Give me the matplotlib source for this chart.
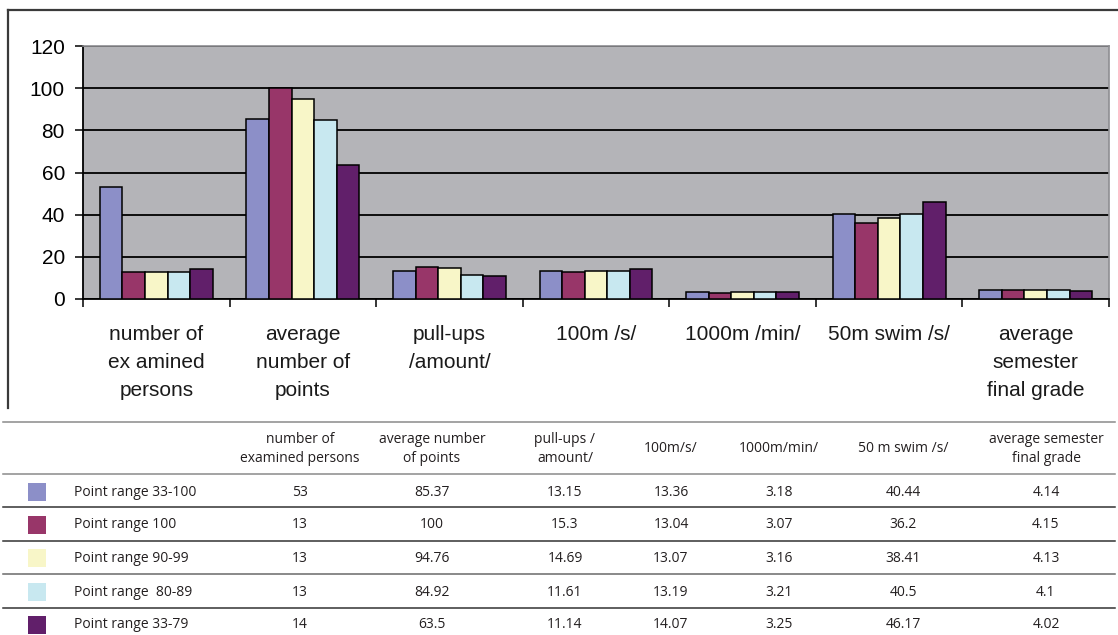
import matplotlib
matplotlib.use("Agg")
import matplotlib.pyplot as plt
from matplotlib.lines import Line2D
from matplotlib.patches import Rectangle
import numpy as np

# ---- data ----
categories = [
    "number of\nex amined\npersons",
    "average\nnumber of\npoints",
    "pull-ups\n/amount/",
    "100m /s/",
    "1000m /min/",
    "50m swim /s/",
    "average\nsemester\nfinal grade",
]
table_headers = [
    "number of\nexamined persons",
    "average number\nof points",
    "pull-ups /\namount/",
    "100m/s/",
    "1000m/min/",
    "50 m swim /s/",
    "average semester\nfinal grade",
]
series_names = [
    "Point range 33-100",
    "Point range 100",
    "Point range 90-99",
    "Point range  80-89",
    "Point range 33-79",
]
range_33_100 = [53, 85.37, 13.15, 13.36, 3.18, 40.44, 4.14]
range_100 = [13, 100, 15.3, 13.04, 3.07, 36.2, 4.15]
range_90_99 = [13, 94.76, 14.69, 13.07, 3.16, 38.41, 4.13]
range_80_89 = [13, 84.92, 11.61, 13.19, 3.21, 40.5, 4.1]
range_33_79 = [14, 63.5, 11.14, 14.07, 3.25, 46.17, 4.02]
series_values = [range_33_100, range_100, range_90_99, range_80_89, range_33_79]
series_colors = ["#8C8FC8", "#983669", "#F8F6C8", "#C8E8F0", "#611F6A"]
yticks = [0, 20, 40, 60, 80, 100, 120]

# ---- figure ----
W, H = 1118, 635
fig = plt.figure(figsize=(W / 100, H / 100), dpi=100)
fig.patch.set_facecolor("white")


def fx(px):
    return px / W


def fy(py):
    return 1 - py / H


# chart frame (top and left edges)
fig.add_artist(Line2D([fx(8), fx(1118)], [fy(10), fy(10)], color="#3a3a3a", lw=1.6))
fig.add_artist(Line2D([fx(8), fx(8)], [fy(10), fy(408)], color="#3a3a3a", lw=1.6))

ax = fig.add_axes([fx(83), fy(299), fx(1109 - 83), (299 - 46) / H])
ax.set_facecolor("#B4B4B8")
ax.set_xlim(0, len(categories))
ax.set_ylim(0, 120)

n_series = len(series_values)
bw = 1 / 6.5
centers = np.arange(len(categories)) + 0.5
for j, (vals, col) in enumerate(zip(series_values, series_colors)):
    ax.bar(centers + (j - (n_series - 1) / 2) * bw, vals, width=bw, color=col,
           edgecolor="black", linewidth=1.1, zorder=3)

ax.set_yticks(yticks)
ax.set_yticklabels([str(t) for t in yticks], fontsize=15, family="Liberation Sans")
ax.tick_params(axis="y", length=6, width=1.1, pad=7, colors="black")
ax.yaxis.grid(True, color="black", lw=1.3, zorder=1)
ax.set_axisbelow(True)

ax.set_xticks(np.arange(len(categories) + 1))
ax.set_xticklabels([])
ax.tick_params(axis="x", which="major", length=6, width=1.1)
ax.set_xticks(centers, minor=True)
ax.set_xticklabels(categories, minor=True, fontsize=15, family="Liberation Sans",
                   linespacing=1.62, color="#1a1a1a")
ax.tick_params(axis="x", which="minor", length=0, pad=18.5)

for s in ("top", "right"):
    ax.spines[s].set_color("#8e8e92")
    ax.spines[s].set_linewidth(1.2)
for s in ("left", "bottom"):
    ax.spines[s].set_color("black")
    ax.spines[s].set_linewidth(1.3)

# ---- data table ----
tfont = dict(family="Open Sans", fontsize=10, color="#231f20")
col_x = [300, 432, 565, 671, 779, 903, 1046]

line_rows = [(422, "#8a8a8a"), (474, "#8a8a8a"), (507, "#333333"),
             (541, "#333333"), (574, "#6a6a6a"), (608, "#333333")]
for yy, c in line_rows:
    fig.add_artist(Line2D([fx(3), fx(1115)], [fy(yy), fy(yy)], color=c, lw=1.1))

for x, h in zip(col_x, table_headers):
    fig.text(fx(x), fy(449), h, ha="center", va="center", linespacing=1.3, **tfont)

row_y = [492, 525, 558, 592, 625]
for name, vals, col, yy in zip(series_names, series_values, series_colors, row_y):
    fig.add_artist(Rectangle((fx(28), fy(yy + 9)), fx(18), 18 / H, facecolor=col,
                             edgecolor="none", transform=fig.transFigure))
    fig.text(fx(74), fy(yy), name, ha="left", va="center", **tfont)
    for x, v in zip(col_x, vals):
        fig.text(fx(x), fy(yy), f"{v:g}", ha="center", va="center", **tfont)

fig.savefig("out.png", dpi=100)
